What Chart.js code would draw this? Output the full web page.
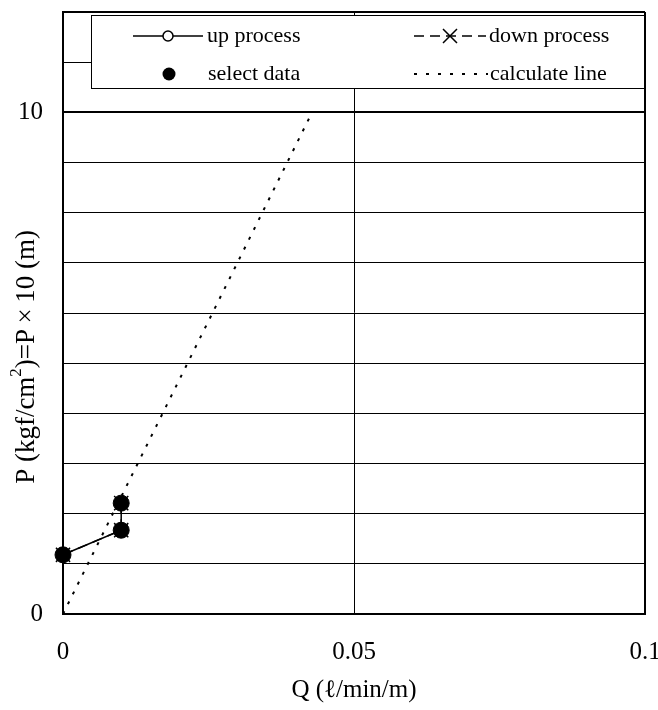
<!DOCTYPE html>
<html>
<head>
<meta charset="utf-8">
<script src="https://cdn.jsdelivr.net/npm/chart.js@4.4.0/dist/chart.umd.min.js"></script>
<style>
  body { margin: 0; background: #fff; }
  #wrap { width: 658px; height: 710px; }
</style>
</head>
<body>
<div id="wrap"><canvas id="chart" width="658" height="710"></canvas></div>
<script>
// Data
const upQ = [0, 0.01, 0.01];
const upP = [1.18, 1.67, 2.21];
const downQ = [0.01, 0.01, 0];
const downP = [2.21, 1.67, 1.18];
const selectQ = [0, 0.01, 0.01];
const selectP = [1.18, 1.67, 2.21];
const calcQ = [0, 0.0428];
const calcP = [0, 10];
const yLabelTicks = [0, 10];

const serif = '"Liberation Serif", "DejaVu Serif", serif';

function pts(xs, ys) {
    return xs.map((x, i) => ({ x, y: ys[i] }));
}

// legend box drawn inside the plot, on top of the grid
const boxLegend = {
    id: 'boxLegend',
    afterDatasetsDraw(chart) {
        const ctx = chart.ctx;
        const x0 = 91, y0 = 15, x1 = 645, y1 = 89;
        const row1 = 36, row2 = 74;
        ctx.save();
        ctx.fillStyle = '#fff';
        ctx.fillRect(x0, y0, x1 - x0, y1 - y0);
        ctx.strokeStyle = '#000';
        ctx.lineWidth = 1;
        ctx.strokeRect(x0 + 0.5, y0 + 0.5, x1 - x0 - 1, y1 - y0 - 1);

        // up process: solid line with open circle
        ctx.lineWidth = 1.5;
        ctx.setLineDash([]);
        ctx.beginPath();
        ctx.moveTo(133, row1); ctx.lineTo(203, row1);
        ctx.stroke();
        ctx.beginPath();
        ctx.arc(168, row1, 5, 0, Math.PI * 2);
        ctx.fillStyle = '#fff';
        ctx.fill();
        ctx.stroke();

        // select data: filled dot
        ctx.beginPath();
        ctx.arc(169, row2, 6.5, 0, Math.PI * 2);
        ctx.fillStyle = '#000';
        ctx.fill();

        // down process: dashed with cross
        ctx.setLineDash([10, 6]);
        ctx.beginPath();
        ctx.moveTo(414, row1); ctx.lineTo(486, row1);
        ctx.stroke();
        ctx.setLineDash([]);
        ctx.beginPath();
        ctx.moveTo(443, row1 - 7); ctx.lineTo(457, row1 + 7);
        ctx.moveTo(457, row1 - 7); ctx.lineTo(443, row1 + 7);
        ctx.stroke();

        // calculate line: dotted
        ctx.setLineDash([3, 9]);
        ctx.lineWidth = 2;
        ctx.beginPath();
        ctx.moveTo(414, row2); ctx.lineTo(488, row2);
        ctx.stroke();
        ctx.setLineDash([]);

        ctx.fillStyle = '#000';
        ctx.font = '22px ' + serif;
        ctx.textBaseline = 'middle';
        ctx.textAlign = 'left';
        ctx.fillText('up process', 207, row1);
        ctx.fillText('select data', 208, row2);
        ctx.fillText('down process', 489, row1);
        ctx.fillText('calculate line', 490, row2);
        ctx.restore();
    }
};

// y title with a real superscript, centred where the original sits
const yTitle = {
    id: 'yTitle',
    afterDraw(chart) {
        const ctx = chart.ctx;
        const big = '27px ' + serif, small = '17px ' + serif;
        const parts = [
            { t: 'P (kgf/cm', f: big, dy: 0 },
            { t: '2', f: small, dy: -10 },
            { t: ')=P\u2009×\u200910 (m)', f: big, dy: 0 }
        ];
        ctx.save();
        let total = 0;
        parts.forEach(p => { ctx.font = p.f; p.w = ctx.measureText(p.t).width; total += p.w; });
        ctx.translate(26, 357);
        ctx.rotate(-Math.PI / 2);
        ctx.fillStyle = '#000';
        ctx.textBaseline = 'middle';
        ctx.textAlign = 'left';
        let x = -total / 2;
        parts.forEach(p => {
            ctx.font = p.f;
            ctx.fillText(p.t, x, p.dy + 1);
            x += p.w;
        });
        ctx.restore();
    }
};

const chart = new Chart(document.getElementById('chart'), {
    type: 'scatter',
    data: {
        datasets: [
            {
                label: 'calculate line',
                data: pts(calcQ, calcP),
                showLine: true,
                borderColor: '#000',
                borderWidth: 2,
                borderDash: [3, 8],
                pointRadius: 0,
                clip: false,
                order: 4
            },
            {
                label: 'up process',
                data: pts(upQ, upP),
                showLine: true,
                borderColor: '#000',
                borderWidth: 1.5,
                pointStyle: 'circle',
                pointRadius: 5,
                pointBackgroundColor: '#fff',
                pointBorderColor: '#000',
                clip: false,
                order: 3
            },
            {
                label: 'down process',
                data: pts(downQ, downP),
                showLine: true,
                borderColor: '#000',
                borderWidth: 1.5,
                borderDash: [10, 6],
                pointStyle: 'crossRot',
                pointRadius: 10,
                pointBorderColor: '#000',
                pointBorderWidth: 1.5,
                clip: false,
                order: 2
            },
            {
                label: 'select data',
                data: pts(selectQ, selectP),
                showLine: false,
                pointStyle: 'circle',
                pointRadius: 8,
                pointBackgroundColor: '#000',
                pointBorderColor: '#000',
                clip: false,
                order: 1
            }
        ]
    },
    options: {
        responsive: false,
        animation: false,
        layout: { padding: { top: 12, right: 13, left: 0, bottom: 0 } },
        plugins: {
            legend: { display: false },
            tooltip: { enabled: false }
        },
        scales: {
            x: {
                type: 'linear',
                min: 0,
                max: 0.1,
                afterFit(scale) { scale.height = 96; scale.paddingRight = 0; scale.paddingLeft = 0; },
                ticks: {
                    stepSize: 0.05,
                    color: '#000',
                    padding: 23,
                    maxRotation: 0,
                    font: { family: serif, size: 25 },
                    callback: v => String(v)
                },
                grid: {
                    color: '#000',
                    drawTicks: false,
                    lineWidth: c => (c.tick && c.tick.value === 0.1 ? 2 : 1)
                },
                border: { display: true, color: '#000', width: 2 },
                title: {
                    display: true,
                    text: 'Q (ℓ/min/m)',
                    color: '#000',
                    font: { family: serif, size: 25 },
                    padding: { top: 0, bottom: 5 }
                }
            },
            y: {
                type: 'linear',
                min: 0,
                max: 12,
                afterFit(scale) { scale.width = 63; scale.paddingTop = 0; scale.paddingBottom = 0; },
                ticks: {
                    stepSize: 1,
                    color: '#000',
                    padding: 20,
                    font: { family: serif, size: 25 },
                    callback: v => (yLabelTicks.includes(v) ? String(v) : '')
                },
                grid: {
                    color: '#000',
                    drawTicks: false,
                    lineWidth: c => (c.tick && (c.tick.value === 10 || c.tick.value === 12) ? 2 : 1)
                },
                border: { display: true, color: '#000', width: 2 },
                title: { display: false }
            }
        }
    },
    plugins: [boxLegend, yTitle]
});
</script>
</body>
</html>
